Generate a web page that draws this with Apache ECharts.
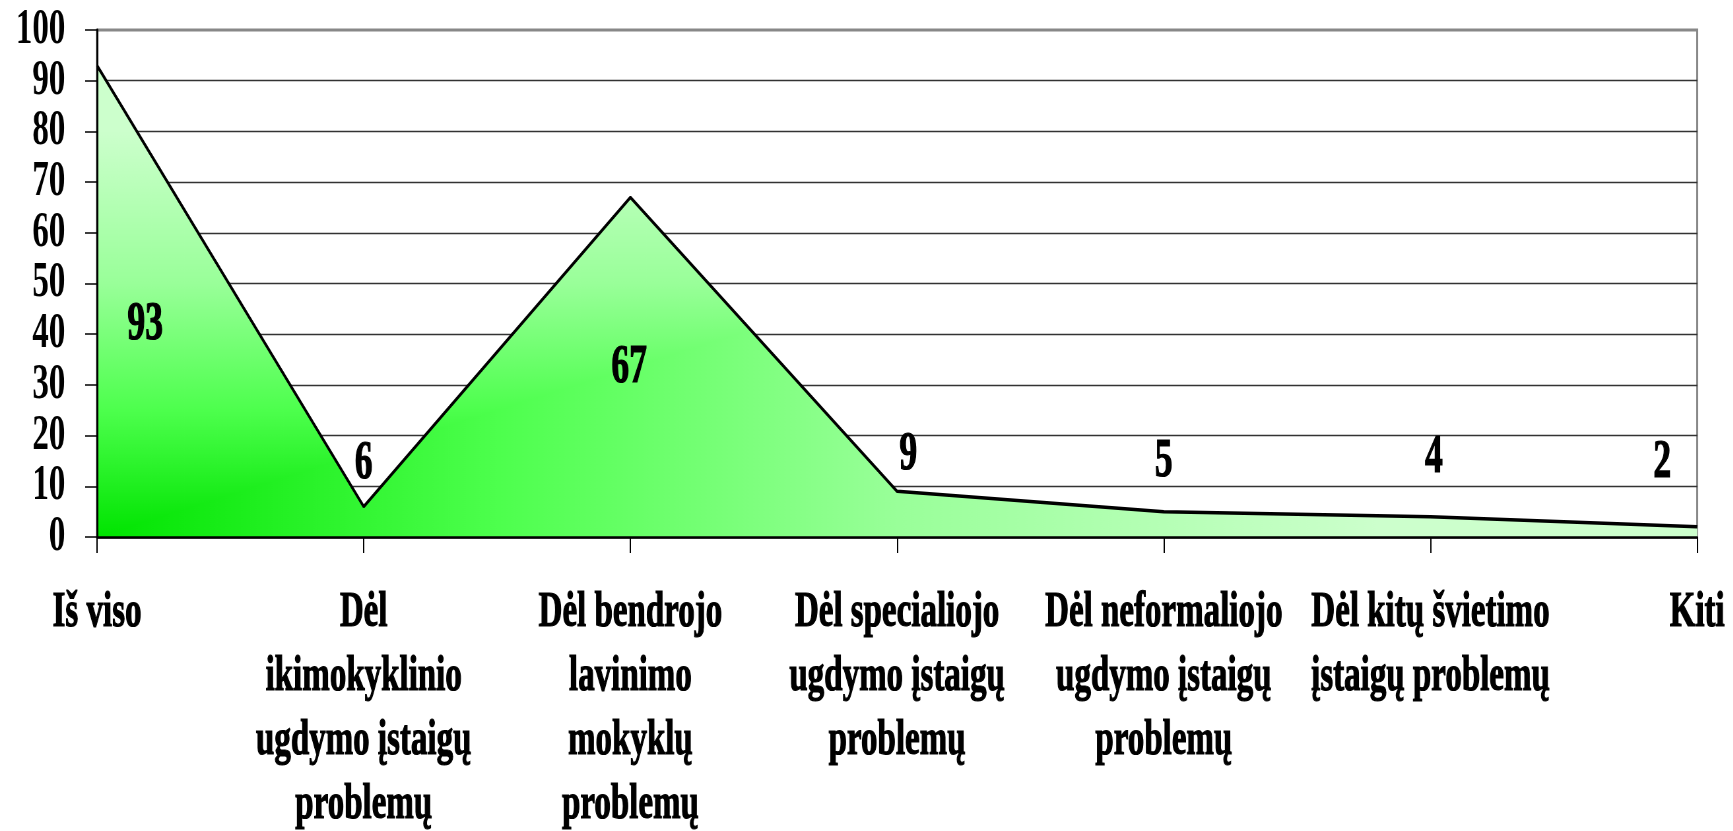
<!DOCTYPE html>
<html>
<head>
<meta charset="utf-8">
<script src="https://cdn.jsdelivr.net/npm/echarts@6/dist/echarts.min.js"></script>
<style>
  html, body { margin: 0; padding: 0; background: #fff; overflow: hidden; }
  /* the original text is strongly condensed, so the chart is drawn wider and squeezed */
  #chart { width: 2626px; height: 831px; transform: scaleX(0.66); transform-origin: 0 0; }
</style>
</head>
<body>
<div id="chart"></div>
<script>
// kategorijos (eilučių lūžiai kaip originale)
const categories = [
  "Iš viso",
  "Dėl\nikimokyklinio\nugdymo įstaigų\nproblemų",
  "Dėl bendrojo\nlavinimo\nmokyklų\nproblemų",
  "Dėl specialiojo\nugdymo įstaigų\nproblemų",
  "Dėl neformaliojo\nugdymo įstaigų\nproblemų",
  "Dėl kitų švietimo\nįstaigų problemų",
  "Kiti"
];
const values = [93, 6, 67, 9, 5, 4, 2];
const yTicks = { min: 0, max: 100, interval: 10 };

// label placement like in the original (pixels, before the horizontal squeeze)
const labelOffsets = [[73, 260], [0, -43], [-2, 171], [17, -36], [0, -50], [5, -59], [-53, -64]];

const FONT = "'Liberation Serif', 'Times New Roman', serif";
const heavy = { textBorderColor: "#000", textBorderWidth: 1.2 };

const chart = echarts.init(document.getElementById("chart"));

function buildOption(fill) {
  return {
    animation: false,
    grid: {
      left: 147, right: 54.5, top: 30, bottom: 294,
      outerBoundsMode: "none",
      show: true,
      borderColor: "#888",
      borderWidth: 3,
      backgroundColor: "transparent"
    },
    xAxis: {
      type: "category",
      data: categories,
      boundaryGap: false,
      z: 5,
      axisLine: { lineStyle: { color: "#000", width: 2.5 } },
      axisTick: { show: true, length: 16, lineStyle: { color: "#000", width: 2 } },
      axisLabel: Object.assign({
        interval: 0,
        margin: 44,
        color: "#000",
        fontFamily: FONT,
        fontWeight: "bold",
        fontSize: 50,
        lineHeight: 64,
        align: "center"
      }, heavy),
      splitLine: { show: false }
    },
    yAxis: [{
      // axis line, ticks and labels drawn above the area
      type: "value",
      min: yTicks.min,
      max: yTicks.max,
      interval: yTicks.interval,
      z: 5,
      axisLine: { show: true, lineStyle: { color: "#000", width: 3 } },
      axisTick: { show: true, length: 18, lineStyle: { color: "#000", width: 1.5 } },
      axisLabel: {
        margin: 48,
        color: "#000",
        fontFamily: FONT,
        fontWeight: "bold",
        fontSize: 50
      },
      splitLine: { show: false }
    }, {
      // gridlines only, behind the area
      type: "value",
      position: "left",
      min: yTicks.min,
      max: yTicks.max,
      interval: yTicks.interval,
      z: 0,
      axisLine: { show: false },
      axisTick: { show: false },
      axisLabel: { show: false },
      splitLine: { show: true, showMaxLine: false, lineStyle: { color: "#333", width: 1.3 } }
    }],
    series: [{
      type: "line",
      yAxisIndex: 0,
      z: 2,
      data: values.map((v, i) => ({
        value: v,
        label: { offset: labelOffsets[i] }
      })),
      symbol: "circle",
      symbolSize: 1,
      itemStyle: { color: "rgba(0,0,0,0)" },
      lineStyle: { color: "#000", width: 3.5 },
      areaStyle: { color: fill, opacity: 1 },
      label: Object.assign({
        show: true,
        position: "inside",
        color: "#000",
        fontFamily: FONT,
        fontWeight: "bold",
        fontSize: 54
      }, heavy),
      emphasis: { disabled: true }
    }]
  };
}

chart.setOption(buildOption("#66ff66"));

// gradient "from corner": bright green bottom-left, pale towards top and right
const p0 = chart.convertToPixel({ gridIndex: 0 }, [0, yTicks.min]);
const p1 = chart.convertToPixel({ gridIndex: 0 }, [categories.length - 1, yTicks.max]);
const cv = document.createElement("canvas");
cv.width = chart.getWidth();
cv.height = chart.getHeight();
const ctx = cv.getContext("2d");
const stops = [[0, "#00e400"], [0.25, "#4dff4d"], [0.5, "#99ff99"], [0.8, "#ccffcc"], [1, "#ccffcc"]];
const gx = ctx.createLinearGradient(p0[0], 0, p1[0], 0);
const gy = ctx.createLinearGradient(0, p0[1], 0, p1[1]);
stops.forEach(s => { gx.addColorStop(s[0], s[1]); gy.addColorStop(s[0], s[1]); });
ctx.fillStyle = gx;
ctx.fillRect(0, 0, cv.width, cv.height);
ctx.globalCompositeOperation = "lighten";
ctx.fillStyle = gy;
ctx.fillRect(0, 0, cv.width, cv.height);

chart.setOption(buildOption({ image: cv, repeat: "no-repeat" }));
</script>
</body>
</html>
